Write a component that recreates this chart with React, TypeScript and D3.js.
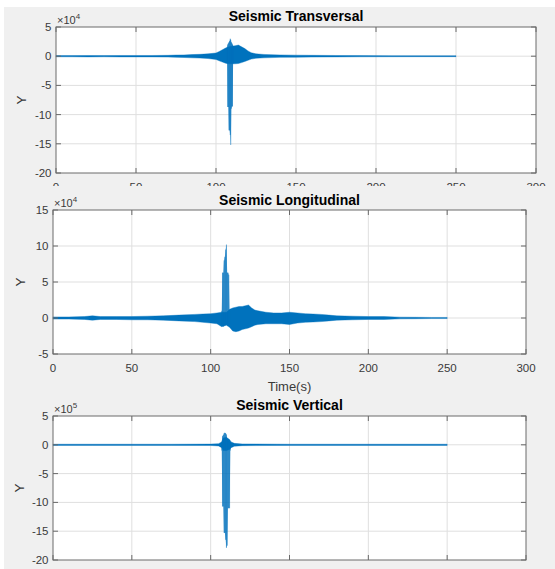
import React from "react";
import * as d3 from "d3";

// ---------- data (envelopes) ----------
// Seismic Transversal (x1e4)
const transT = [0, 10, 20, 30, 40, 50, 60, 70, 75, 80, 85, 90, 95, 100, 102, 104, 106, 108, 110, 112, 114, 116, 118, 120, 122, 125, 130, 140, 150, 160, 175, 190, 210, 230, 250];
const transUp = [0.1, 0.1, 0.12, 0.1, 0.12, 0.12, 0.12, 0.15, 0.2, 0.22, 0.28, 0.32, 0.4, 0.55, 0.8, 1.1, 1.4, 1.6, 1.7, 1.8, 1.9, 1.6, 1.3, 0.9, 0.6, 0.4, 0.3, 0.22, 0.18, 0.15, 0.12, 0.1, 0.09, 0.08, 0.08];
const transLo = [-0.1, -0.1, -0.12, -0.1, -0.12, -0.12, -0.12, -0.15, -0.2, -0.22, -0.28, -0.32, -0.4, -0.55, -0.8, -1.0, -1.2, -1.3, -1.3, -1.3, -1.25, -1.1, -0.9, -0.7, -0.5, -0.35, -0.28, -0.2, -0.18, -0.15, -0.12, -0.1, -0.09, -0.08, -0.08];
const transSpikeT = [107.0, 107.3, 107.7, 108.1, 108.5, 108.9, 109.2, 109.6, 110.0, 110.3, 110.7];
const transSpikeHi = [1.6, 2.0, 2.2, 2.4, 2.6, 3.0, 2.8, 2.4, 2.2, 2.0, 1.8];
const transSpikeLo = [-1.3, -8.7, -8.7, -12.7, -12.7, -13.5, -15.2, -9.0, -8.6, -8.6, -1.3];

// Seismic Longitudinal (x1e4)
const longT = [0, 10, 20, 25, 30, 40, 50, 60, 70, 80, 90, 95, 100, 104, 107, 110, 112, 114, 116, 118, 120, 122, 124, 126, 128, 130, 135, 140, 145, 150, 155, 160, 165, 170, 175, 180, 190, 200, 210, 220, 230, 240, 250];
const longUp = [0.15, 0.15, 0.2, 0.3, 0.2, 0.2, 0.2, 0.25, 0.3, 0.4, 0.5, 0.55, 0.6, 0.7, 0.8, 0.8, 1.2, 1.4, 1.5, 1.6, 1.6, 1.7, 1.8, 1.4, 1.1, 1.0, 0.8, 0.7, 0.7, 0.8, 0.7, 0.6, 0.55, 0.5, 0.4, 0.3, 0.25, 0.2, 0.2, 0.12, 0.1, 0.08, 0.08];
const longLo = [-0.15, -0.15, -0.2, -0.3, -0.2, -0.2, -0.25, -0.25, -0.3, -0.4, -0.5, -0.6, -0.7, -0.8, -1.2, -1.0, -1.3, -1.8, -1.9, -1.8, -1.6, -1.5, -1.4, -1.2, -1.0, -0.9, -0.8, -0.8, -0.8, -0.9, -0.7, -0.6, -0.55, -0.5, -0.4, -0.3, -0.25, -0.2, -0.2, -0.12, -0.1, -0.08, -0.08];
const longSpikeT = [107.0, 107.5, 108.0, 108.5, 109.0, 109.5, 110.0, 110.5, 111.0, 111.5, 112.0];
const longSpikeHi = [1.0, 6.3, 6.3, 8.0, 8.5, 9.5, 10.2, 6.3, 6.3, 6.0, 1.0];
const longSpikeLo = [-0.8, -1.0, -1.2, -1.0, -0.9, -0.8, -0.8, -0.9, -1.0, -1.0, -0.8];

// Seismic Vertical (x1e5)
const vertT = [0, 25, 50, 75, 100, 105, 107, 108, 110, 112, 113, 115, 120, 150, 200, 250];
const vertUp = [0.1, 0.1, 0.1, 0.1, 0.12, 0.2, 0.5, 1.2, 1.3, 0.9, 0.5, 0.25, 0.15, 0.1, 0.1, 0.1];
const vertLo = [-0.1, -0.1, -0.1, -0.1, -0.12, -0.2, -0.5, -1.0, -1.0, -0.8, -0.5, -0.25, -0.15, -0.1, -0.1, -0.1];
const vertSpikeT = [107.0, 107.5, 108.0, 108.5, 109.0, 109.5, 110.0, 110.5, 111.0, 111.5, 112.0, 112.5];
const vertSpikeHi = [0.5, 1.5, 1.7, 2.0, 2.1, 2.0, 1.8, 1.0, 0.6, 0.5, 0.4, 0.3];
const vertSpikeLo = [-1.0, -10.7, -10.7, -15.3, -15.3, -16.5, -17.9, -17.5, -11.0, -11.0, -11.0, -1.0];

const xTicks = [0, 50, 100, 150, 200, 250, 300];
const yTicksA = [5, 0, -5, -10, -15, -20];
const yTicksB = [15, 10, 5, 0, -5];

const BLUE = "#0072BD";
const FONT = "'Liberation Sans', Arial, Helvetica, sans-serif";

type PanelProps = {
  title: string;
  exp: string;
  left: number; right: number; top: number; bottom: number;
  regionTop: number; regionBottom: number;
  yDomain: [number, number];
  yTicks: number[];
  t: number[]; up: number[]; lo: number[];
  st: number[]; shi: number[]; slo: number[];
  xlabel?: string;
  titleY: number;
  ylabelX: number;
};

function Panel(p: PanelProps) {
  const x = d3.scaleLinear().domain([0, 300]).range([p.left, p.right]);
  const y = d3.scaleLinear().domain(p.yDomain).range([p.bottom, p.top]);
  const env = p.t.map((t, i) => ({ t, u: p.up[i], l: p.lo[i] }));
  const spk = p.st.map((t, i) => ({ t, u: p.shi[i], l: p.slo[i] }));
  const area = d3.area<{ t: number; u: number; l: number }>()
    .x((d) => x(d.t)).y0((d) => y(d.l)).y1((d) => y(d.u))
    .curve(d3.curveLinear);
  const tickLen = 5;
  const cx = (p.left + p.right) / 2;
  const cy = (p.top + p.bottom) / 2;
  return (
    <g>
      <rect x={4} y={p.regionTop} width={551} height={p.regionBottom - p.regionTop} fill="#f0f0f0" />
      <rect x={p.left} y={p.top} width={p.right - p.left} height={p.bottom - p.top} fill="#fff" />
      {xTicks.slice(1, -1).map((v) => (
        <line key={"gx" + v} x1={x(v)} x2={x(v)} y1={p.top} y2={p.bottom} stroke="#dfdfdf" strokeWidth={1} />
      ))}
      {p.yTicks.slice(1, -1).map((v) => (
        <line key={"gy" + v} x1={p.left} x2={p.right} y1={y(v)} y2={y(v)} stroke="#dfdfdf" strokeWidth={1} />
      ))}
      <path d={area(env) || ""} fill={BLUE} stroke={BLUE} strokeWidth={0.4} />
      <path d={area(spk) || ""} fill={BLUE} fillOpacity={0.6} />
      {spk.map((d, i) => (
        <line key={"s" + i} x1={x(d.t)} x2={x(d.t)} y1={y(d.u)} y2={y(d.l)} stroke={BLUE} strokeOpacity={0.7} strokeWidth={0.8} />
      ))}
      <rect x={p.left} y={p.top} width={p.right - p.left} height={p.bottom - p.top} fill="none" stroke="#6a6a6a" strokeWidth={1} />
      {xTicks.map((v) => (
        <g key={"tx" + v}>
          <line x1={x(v)} x2={x(v)} y1={p.bottom} y2={p.bottom - tickLen} stroke="#6a6a6a" />
          <line x1={x(v)} x2={x(v)} y1={p.top} y2={p.top + tickLen} stroke="#6a6a6a" />
          <text x={x(v)} y={p.bottom + 18} textAnchor="middle" fontSize={11.5} fill="#3a3a3a" fontFamily={FONT}>{v}</text>
        </g>
      ))}
      {p.yTicks.map((v) => (
        <g key={"ty" + v}>
          <line x1={p.left} x2={p.left + tickLen} y1={y(v)} y2={y(v)} stroke="#6a6a6a" />
          <line x1={p.right} x2={p.right - tickLen} y1={y(v)} y2={y(v)} stroke="#6a6a6a" />
          <text x={p.left - 4.5} y={y(v) + 4} textAnchor="end" fontSize={11.5} fill="#3a3a3a" fontFamily={FONT}>{v}</text>
        </g>
      ))}
      <text x={p.left + 1} y={p.top - 3} fontSize={11} fill="#3a3a3a" fontFamily={FONT}>
        ×10<tspan dy={-5} fontSize={8}>{p.exp}</tspan>
      </text>
      <text x={cx} y={p.titleY} textAnchor="middle" fontSize={14} fontWeight="bold" fill="#000" fontFamily={FONT}>{p.title}</text>
      <text transform={`translate(${p.ylabelX},${cy}) rotate(-90)`} textAnchor="middle" fontSize={13.5} fill="#3a3a3a" fontFamily={FONT}>Y</text>
      {p.xlabel && (
        <text x={cx} y={p.bottom + 37} textAnchor="middle" fontSize={13} fill="#3a3a3a" fontFamily={FONT}>{p.xlabel}</text>
      )}
    </g>
  );
}

export default function App() {
  return (
    <svg width={555} height={569} style={{ display: "block", position: "absolute", left: 0, top: 0 }}>
      <rect x={0} y={0} width={555} height={569} fill="#fff" />
      <Panel title="Seismic Transversal" exp="4" left={56} right={536} top={27} bottom={173}
        regionTop={7} regionBottom={186} yDomain={[-20, 5]} yTicks={yTicksA}
        t={transT} up={transUp} lo={transLo} st={transSpikeT} shi={transSpikeHi} slo={transSpikeLo}
        titleY={21} ylabelX={26} />
      <Panel title="Seismic Longitudinal" exp="4" left={53} right={526} top={210} bottom={354}
        regionTop={186} regionBottom={400} yDomain={[-5, 15]} yTicks={yTicksB}
        t={longT} up={longUp} lo={longLo} st={longSpikeT} shi={longSpikeHi} slo={longSpikeLo}
        xlabel="Time(s)" titleY={205} ylabelX={25} />
      <Panel title="Seismic Vertical" exp="5" left={53} right={526} top={416} bottom={560}
        regionTop={400} regionBottom={569} yDomain={[-20, 5]} yTicks={yTicksA}
        t={vertT} up={vertUp} lo={vertLo} st={vertSpikeT} shi={vertSpikeHi} slo={vertSpikeLo}
        titleY={410} ylabelX={24} />
    </svg>
  );
}
